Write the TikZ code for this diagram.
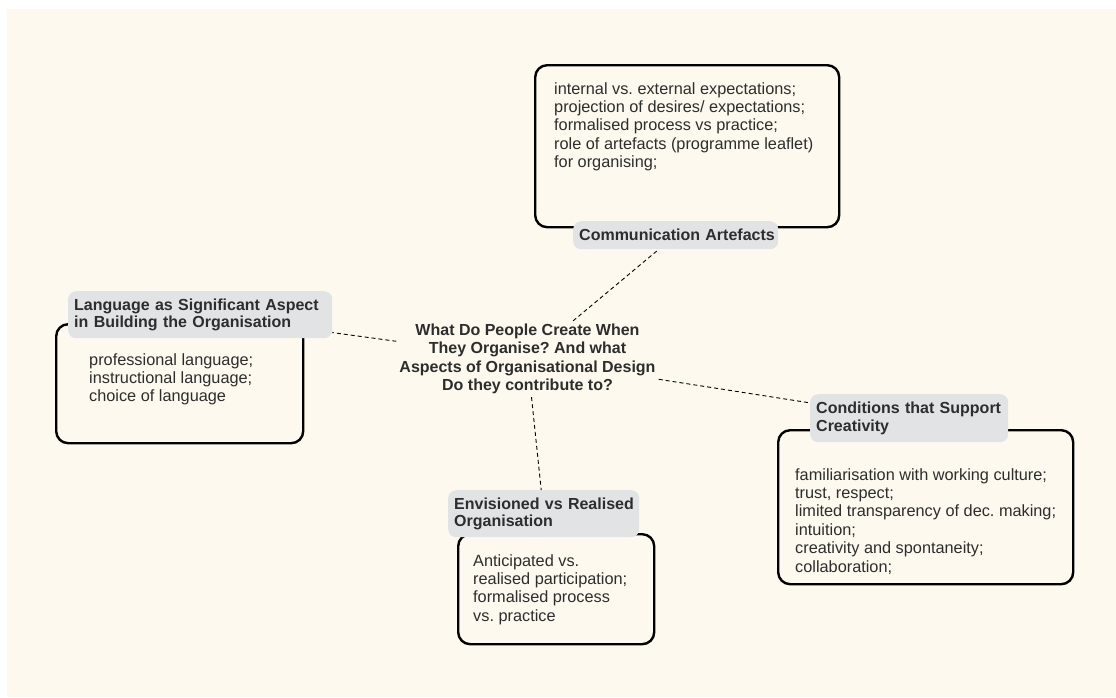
\documentclass[tikz,border=0pt]{standalone}
\usepackage{fontspec}
\setmainfont{Liberation Sans}
\frenchspacing
\definecolor{bgcream}{RGB}{253,249,239}
\definecolor{lblgray}{RGB}{226,227,229}
\definecolor{txt}{RGB}{45,45,45}
\begin{document}
\frenchspacing
\begin{tikzpicture}[x=1pt,y=-1pt,
  every node/.style={text=txt},
  body/.style={font=\fontsize{16.3}{18.4}\selectfont\frenchspacing, align=left, anchor=base west, inner sep=0pt},
  lbl/.style 2 args={fill=lblgray, rounded corners=8pt, font=\bfseries\fontsize{16}{17.6}\selectfont\frenchspacing,
    align=left, anchor=north west, inner xsep=6pt, inner ysep=0pt, text width=#1, minimum height=#2},
  card/.style 2 args={draw=black, line width=2.4pt, rounded corners=12pt, fill=bgcream,
    anchor=north west, minimum width=#1, minimum height=#2, inner sep=0pt},
  link/.style={draw=black, line width=0.9pt, dash pattern=on 4pt off 3pt}]
\useasboundingbox (0,0) rectangle (1116,697);
\fill[white] (0,0) rectangle (1116,697);
\fill[bgcream] (7,9) rectangle (1116,697);

% Communication Artefacts (text node anchored at the baseline of its last line)
\node[card={304pt}{162pt}] (commCard) at (534,64) {};
\node[body] (commText) at (554,167.6) {internal vs. external expectations;\\projection of desires/ expectations;\\formalised process vs practice;\\role of artefacts (programme leaflet)\\for organising;};
\node[lbl={193pt}{28pt}] (commLbl) at (573,221) {\mbox{Communication Artefacts}};

% Language
\node[card={247pt}{119pt}] (langCard) at (55,323) {};
\node[body] (langText) at (89,401.8) {professional language;\\instructional language;\\choice of language};
\node[lbl={252pt}{47pt}] (langLbl) at (68,291) {\mbox{Language as Significant Aspect}\\\mbox{in Building the Organisation}};

% Conditions
\node[card={295pt}{154pt}] (condCard) at (777,429) {};
\node[body] (condText) at (795,572) {familiarisation with working culture;\\trust, respect;\\limited transparency of dec. making;\\intuition;\\creativity and spontaneity;\\collaboration;};
\node[lbl={186pt}{48pt}] (condLbl) at (810,394) {\mbox{Conditions that Support}\\Creativity};

% Envisioned
\node[card={196pt}{110pt}] (envCard) at (457,533) {};
\node[body] (envText) at (473,621.2) {Anticipated vs.\\realised participation;\\formalised process\\vs. practice};
\node[lbl={179pt}{47pt}] (envLbl) at (448,490) {\mbox{Envisioned vs Realised}\\Organisation};

% Central topic
\node[font=\bfseries\fontsize{16}{18.3}\selectfont\frenchspacing, align=center, inner sep=3pt] (hub) at (527.5,359)
  {What Do People Create When\\They Organise? And what\\Aspects of Organisational Design\\Do they contribute to?};

% Connectors
\draw[link] (hub) -- (commLbl);
\draw[link] (hub) -- (langLbl);
\draw[link] (hub) -- (condLbl);
\draw[link] (hub) -- (envLbl);
\end{tikzpicture}
\end{document}
